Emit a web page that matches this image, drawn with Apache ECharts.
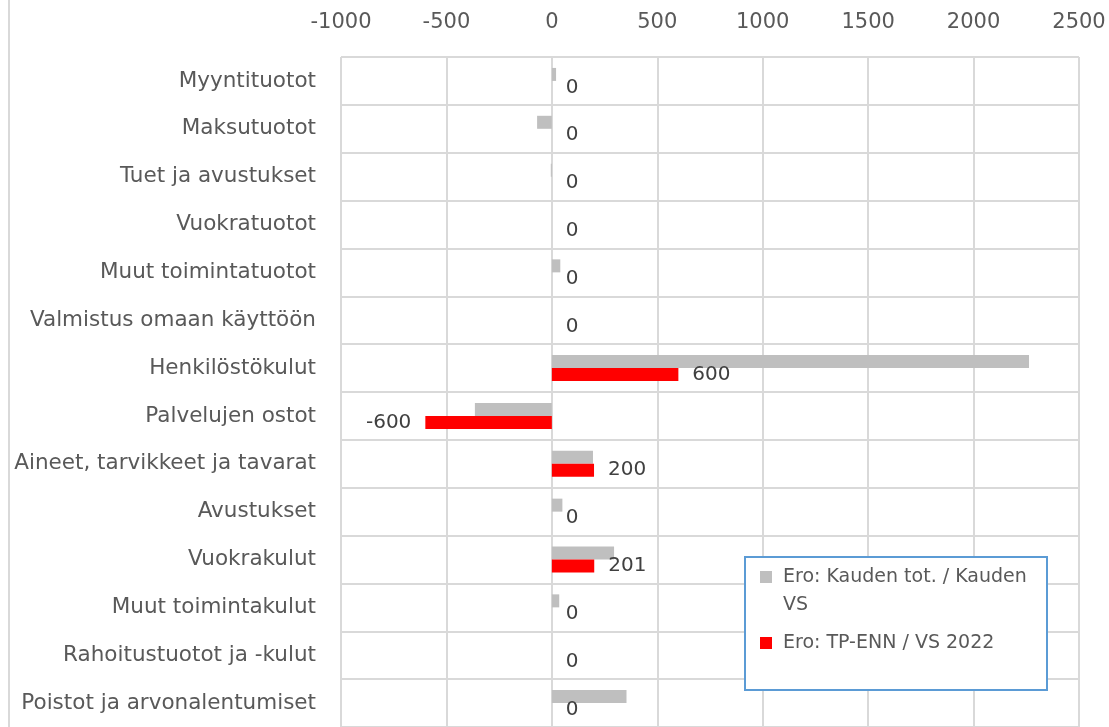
<!DOCTYPE html>
<html>
<head>
<meta charset="utf-8">
<script src="https://cdn.jsdelivr.net/npm/echarts@6/dist/echarts.min.js"></script>
<style>
  html, body { margin: 0; padding: 0; background: #fff; }
  #chart { width: 1109px; height: 727px; }
</style>
</head>
<body>
<div id="chart"></div>
<script>
// rivit ylhäältä alas
var categories = [
  'Myyntituotot', 'Maksutuotot', 'Tuet ja avustukset', 'Vuokratuotot',
  'Muut toimintatuotot', 'Valmistus omaan käyttöön', 'Henkilöstökulut',
  'Palvelujen ostot', 'Aineet, tarvikkeet ja tavarat', 'Avustukset',
  'Vuokrakulut', 'Muut toimintakulut', 'Rahoitustuotot ja -kulut',
  'Poistot ja arvonalentumiset'
];
var seriesNames = ['Ero: Kauden tot. / Kauden VS', 'Ero: TP-ENN / VS 2022'];
var kaudenEro = [20, -70, -5, 0, 40, 0, 2263, -365, 195, 50, 295, 35, 0, 354];
var tpEnnEro = [0, 0, 0, 0, 0, 0, 600, -600, 200, 0, 201, 0, 0, 0];

var font = 'DejaVu Sans';

let myChart = echarts.init(document.getElementById('chart'));
myChart.setOption({
  animation: false,
  textStyle: { fontFamily: font },
  grid: { left: 341, right: 30, top: 57, height: 672 },
  xAxis: {
    type: 'value',
    position: 'top',
    min: -1000,
    max: 2500,
    interval: 500,
    axisLine: { show: false },
    axisTick: { show: false },
    axisLabel: {
      color: '#595959', fontSize: 21, margin: 24, fontFamily: font,
      formatter: function (v) { return String(v); }
    },
    splitLine: { lineStyle: { color: '#d9d9d9', width: 2 } }
  },
  yAxis: {
    type: 'category',
    inverse: true,
    data: categories,
    axisLine: { show: false },
    axisTick: { show: false },
    axisLabel: { color: '#595959', fontSize: 21.5, margin: 25, fontFamily: font },
    splitLine: { show: true, lineStyle: { color: '#d9d9d9', width: 2 } }
  },
  // selitteen kehys
  graphic: [{
    type: 'line',
    shape: { x1: 9, y1: 0, x2: 9, y2: 727 },
    style: { stroke: '#d9d9d9', lineWidth: 2 }
  }, {
    type: 'rect',
    z: 10,
    shape: { x: 745, y: 557, width: 302, height: 133 },
    style: { fill: '#fff', stroke: '#5b9bd5', lineWidth: 2 }
  }],
  legend: {
    orient: 'vertical',
    left: 760,
    top: 535,
    z: 20,
    padding: 0,
    itemWidth: 12,
    itemHeight: 12,
    itemGap: 10,
    icon: 'rect',
    // pitkä nimi rivittyy: tyhjä rivi ylös, jotta ikoni osuu ensimmäiselle riville
    formatter: function (name) {
      return name === seriesNames[0] ? '\n' + name : name;
    },
    textStyle: {
      color: '#595959', fontSize: 19, width: 255, overflow: 'break',
      lineHeight: 28, padding: [0, 0, 0, 6], fontFamily: font
    },
    data: seriesNames
  },
  series: [{
    name: seriesNames[0],
    type: 'bar',
    barWidth: 13,
    barGap: '0%',
    itemStyle: { color: '#bfbfbf' },
    data: kaudenEro
  }, {
    name: seriesNames[1],
    type: 'bar',
    barWidth: 13,
    barGap: '0%',
    itemStyle: { color: '#ff0000' },
    label: { show: true, position: 'right', distance: 14, color: '#404040', fontSize: 20, fontFamily: font },
    data: tpEnnEro.map(function (v) {
      return v < 0 ? { value: v, label: { position: 'left' } } : v;
    })
  }]
});
</script>
</body>
</html>
